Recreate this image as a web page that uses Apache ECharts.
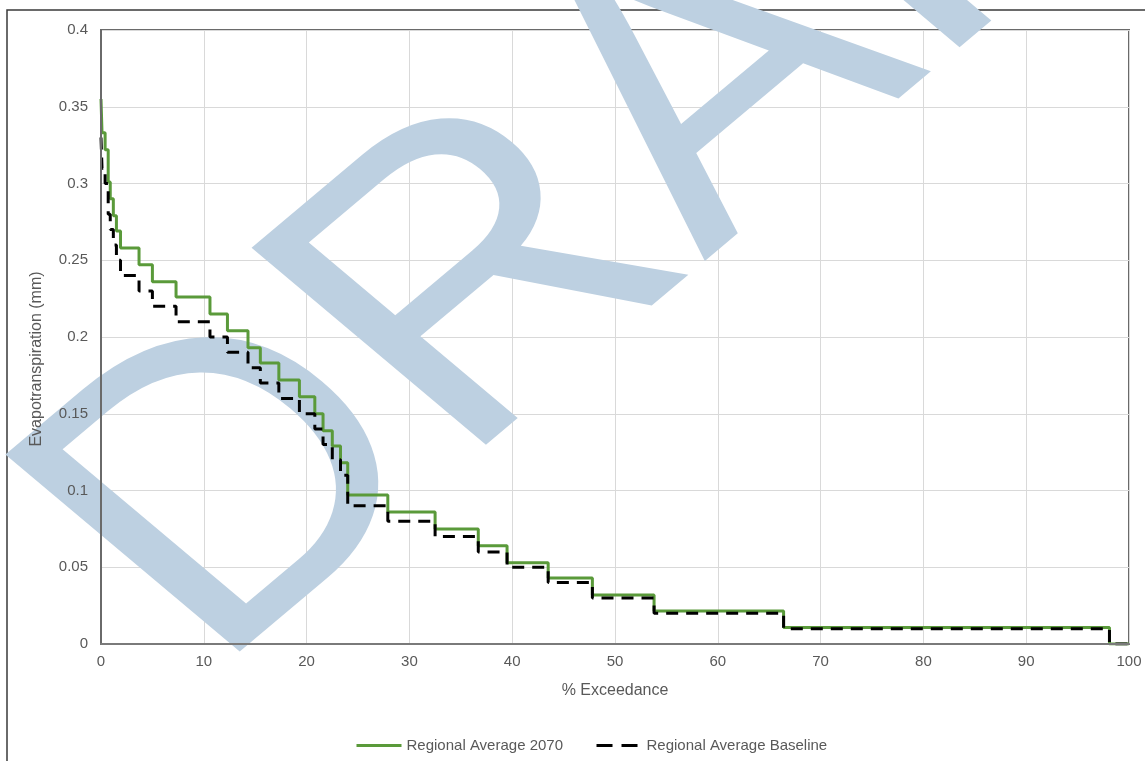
<!DOCTYPE html>
<html>
<head>
<meta charset="utf-8">
<script src="https://cdn.jsdelivr.net/npm/echarts@6/dist/echarts.min.js"></script>
<style>
html,body{margin:0;padding:0;background:#fff;}
#chart{width:1145px;height:761px;}
</style>
</head>
<body>
<div id="chart"></div>
<script>
// % exceedance at which each step level starts (shared by both series)
const exceedance = [0, 0.1, 0.4, 0.7, 0.9, 1.2, 1.5, 1.9, 3.7, 5.0, 7.3, 10.6, 12.3, 14.3, 15.5, 17.3, 19.3, 20.8, 21.6, 22.5, 23.3, 24.0, 27.9, 32.5, 36.7, 39.5, 43.5, 47.8, 53.8, 66.4, 98.1, 100];
// Regional Average 2070 (mm)
const avg2070 = [0.355, 0.333, 0.322, 0.301, 0.290, 0.279, 0.269, 0.258, 0.247, 0.236, 0.226, 0.215, 0.204, 0.193, 0.183, 0.172, 0.161, 0.150, 0.139, 0.129, 0.118, 0.097, 0.086, 0.075, 0.064, 0.053, 0.043, 0.032, 0.0215, 0.0107, 0, 0];
// Regional Average Baseline (mm)
const avgBaseline = [0.33, 0.31, 0.30, 0.28, 0.27, 0.26, 0.25, 0.24, 0.23, 0.22, 0.21, 0.20, 0.19, 0.18, 0.17, 0.16, 0.15, 0.14, 0.13, 0.12, 0.11, 0.09, 0.08, 0.07, 0.06, 0.05, 0.04, 0.03, 0.02, 0.01, 0, 0];
const seriesNames = ['Regional Average 2070', 'Regional Average Baseline'];
const xTitle = '% Exceedance';
const yTitle = 'Evapotranspiration (mm)';
const watermark = 'DRAFT';

const pair = (vals) => exceedance.map((x, i) => [x, vals[i]]);
const FONT = 'Liberation Sans, Arial, sans-serif';
const TXT = '#595959';

const xScale = {type: 'value', min: 0, max: 100, interval: 10};
const yScale = {type: 'value', min: 0, max: 0.4, interval: 0.05};

const chart = echarts.init(document.getElementById('chart'));
chart.setOption({
  animation: false,
  backgroundColor: '#fff',
  grid: {left: 101, right: 16, top: 30, bottom: 117, show: true, borderColor: '#6a6a6a', borderWidth: 2},
  xAxis: [
    Object.assign({}, xScale, {
      z: 0, axisLine: {show: false}, axisTick: {show: false}, axisLabel: {show: false},
      splitLine: {show: true, lineStyle: {color: '#d9d9d9', width: 1}}
    }),
    Object.assign({}, xScale, {
      z: 5, position: 'bottom',
      name: xTitle, nameLocation: 'middle', nameGap: 39,
      nameTextStyle: {color: TXT, fontFamily: FONT, fontSize: 16},
      axisLine: {show: true, onZero: false, lineStyle: {color: '#7a7a7a', width: 2}},
      axisTick: {show: false},
      axisLabel: {color: TXT, fontFamily: FONT, fontSize: 15, margin: 10},
      splitLine: {show: false}
    })
  ],
  yAxis: [
    Object.assign({}, yScale, {
      z: 0, axisLine: {show: false}, axisTick: {show: false}, axisLabel: {show: false},
      splitLine: {show: true, lineStyle: {color: '#d9d9d9', width: 1}}
    }),
    Object.assign({}, yScale, {
      z: 5, position: 'left',
      axisLine: {show: true, onZero: false, lineStyle: {color: '#6a6a6a', width: 2}},
      axisTick: {show: false},
      axisLabel: {color: TXT, fontFamily: FONT, fontSize: 15, margin: 13},
      splitLine: {show: false}
    })
  ],
  legend: {
    left: 350, top: 733, itemWidth: 45, itemHeight: 14, itemGap: 32,
    textStyle: {color: TXT, fontFamily: FONT, fontSize: 15},
    itemStyle: {opacity: 0},
    data: [
      {name: seriesNames[0], itemStyle: {opacity: 0}, lineStyle: {width: 3}},
      {name: seriesNames[1], itemStyle: {opacity: 0}, lineStyle: {width: 3, type: [16, 9]}}
    ]
  },
  graphic: [
    {type: 'rect', z: 0, silent: true, shape: {x: 7, y: 10, width: 1300, height: 900}, style: {fill: null, stroke: '#3a3a3a', lineWidth: 1.5}},
    {type: 'group', z: 1, silent: true, x: 0, y: 0, scaleX: 1.19, scaleY: 1,
      children: [
        {type: 'text', z: 1, silent: true, x: 99, y: 596, rotation: 0.785,
          style: {text: watermark, font: 'normal 405px ' + FONT, fill: '#bdd0e1', textAlign: 'left', textVerticalAlign: 'middle'}}
      ]},
    {type: 'text', z: 6, silent: true, x: 37, y: 359, rotation: Math.PI / 2,
      style: {text: yTitle, font: '16px ' + FONT, fill: TXT, textAlign: 'center', textVerticalAlign: 'middle'}}
  ],
  series: [
    {name: seriesNames[0], type: 'line', step: 'end', data: pair(avg2070), showSymbol: false, symbol: 'none', z: 3,
      xAxisIndex: 0, yAxisIndex: 0,
      lineStyle: {color: '#5a9a3a', width: 3}, itemStyle: {color: '#5a9a3a'}},
    {name: seriesNames[1], type: 'line', step: 'end', data: pair(avgBaseline), showSymbol: false, symbol: 'none', z: 4,
      xAxisIndex: 0, yAxisIndex: 0,
      lineStyle: {color: '#000', width: 3, type: [12, 8]}, itemStyle: {color: '#000'}}
  ]
});
</script>
</body>
</html>
